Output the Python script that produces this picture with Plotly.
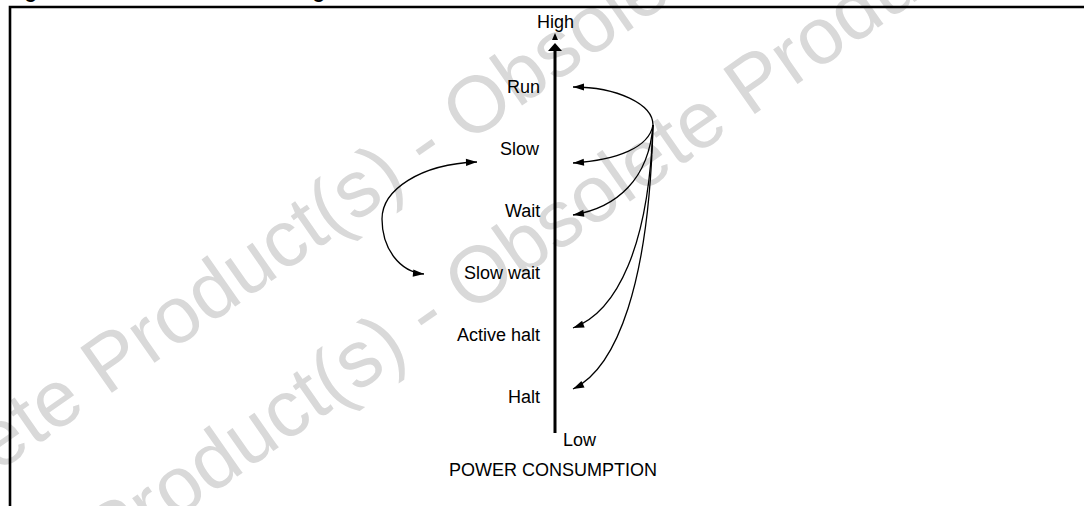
import math
import plotly.graph_objects as go

# ---------------- data ----------------
modes = ["Run", "Slow", "Wait", "Slow wait", "Active halt", "Halt"]
power_rank = [6, 5, 4, 3, 2, 1]          # relative power consumption (high -> low)
axis_ends = ["High", "Low"]
axis_title = "POWER CONSUMPTION"
wake_targets = ["Run", "Slow", "Wait", "Active halt", "Halt"]
slow_pair = ["Slow", "Slow wait"]
watermark = "Obsolete Product(s) - Obsolete Product(s)"
caption_parts = ["Figure 19.", "Power saving mode transitions"]

# ---------------- geometry / style ----------------
W, H = 1084, 506
FONT = "Liberation Sans, Arial, Helvetica, sans-serif"
RANK_Y0, RANK_STEP = 397, 62


def rank_y(r):
    return RANK_Y0 - (r - 1) * RANK_STEP


rank_of = dict(zip(modes, power_rank))
AXIS_X = 555
LABEL_X = 542
TIP_X = 573
SRC = (653, 125)
tip_offset = {"Run": 0, "Slow": 14, "Wait": 4, "Active halt": -7, "Halt": -8}


def bez(p0, c1, c2, p3):
    return "M {:.1f},{:.1f} C {:.1f},{:.1f} {:.1f},{:.1f} {:.1f},{:.1f}".format(*p0, *c1, *c2, *p3)


def head(tip, frm, L=11, hw=3.6):
    ux, uy = tip[0] - frm[0], tip[1] - frm[1]
    n = math.hypot(ux, uy)
    ux, uy = ux / n, uy / n
    bx, by = tip[0] - ux * L, tip[1] - uy * L
    px, py = -uy * hw, ux * hw
    return "M {:.1f},{:.1f} L {:.1f},{:.1f} L {:.1f},{:.1f} Z".format(
        tip[0], tip[1], bx + px, by + py, bx - px, by - py)


shapes = []
line_style = dict(color="black", width=1.3)
# frame
shapes.append(dict(type="rect", xref="x", yref="y", x0=10, y0=7, x1=W + 20, y1=H + 20,
                   line=dict(color="black", width=2.6), layer="above"))
# power axis
shapes.append(dict(type="line", xref="x", yref="y", x0=AXIS_X, x1=AXIS_X, y0=433, y1=50,
                   line=dict(color="black", width=3), layer="above"))
shapes.append(dict(type="path", xref="x", yref="y", path=head((AXIS_X, 43), (AXIS_X, 60), L=8, hw=7),
                   fillcolor="black", line=dict(width=0), layer="above"))
shapes.append(dict(type="path", xref="x", yref="y", path=head((AXIS_X, 33), (AXIS_X, 60), L=7, hw=3),
                   fillcolor="black", line=dict(width=0), layer="above"))

# transitions on the right
for name in wake_targets:
    ty = rank_y(rank_of[name]) + tip_offset[name]
    T = (TIP_X, ty)
    d = ty - SRC[1]
    dx = SRC[0] - TIP_X
    if d < 0:
        C1 = (SRC[0], SRC[1] + 0.55 * d)
        C2 = (TIP_X + 0.55 * dx, ty)
    else:
        C1 = (SRC[0] - 0.05 * dx, SRC[1] + 0.6 * d)
        C2 = (TIP_X + 0.55 * dx, ty - 0.08 * d)
    shapes.append(dict(type="path", xref="x", yref="y", path=bez(SRC, C1, C2, T),
                       line=line_style, layer="above"))
    shapes.append(dict(type="path", xref="x", yref="y", path=head(T, C2),
                       fillcolor="black", line=dict(width=0), layer="above"))

# Slow <-> Slow wait on the left
T1 = (477, rank_y(rank_of[slow_pair[0]]) + 13)
T2 = (424, rank_y(rank_of[slow_pair[1]]) + 1)
mid = (T1[1] + T2[1]) / 2 + 1
LX = 382
a1 = (T1[0] - 57, T1[1] + 2)
b2 = (LX + 18, T2[1] - 2)
arc = bez(T1, a1, (LX, T1[1] + 28), (LX, mid)) + " C {:.1f},{:.1f} {:.1f},{:.1f} {:.1f},{:.1f}".format(
    LX, mid + 30, *b2, *T2)
shapes.append(dict(type="path", xref="x", yref="y", path=arc, line=line_style, layer="above"))
shapes.append(dict(type="path", xref="x", yref="y", path=head(T1, a1),
                   fillcolor="black", line=dict(width=0), layer="above"))
shapes.append(dict(type="path", xref="x", yref="y", path=head(T2, b2),
                   fillcolor="black", line=dict(width=0), layer="above"))

# ---------------- annotations ----------------
ann = []
tf = dict(family=FONT, size=18, color="black")
for name, r in zip(modes, power_rank):
    ann.append(dict(x=LABEL_X, y=rank_y(r), text=name, xanchor="right", yanchor="middle",
                    showarrow=False, font=tf))
ann.append(dict(x=AXIS_X, y=22, text=axis_ends[0], xanchor="center", yanchor="middle",
                showarrow=False, font=tf))
ann.append(dict(x=561, y=440, text=axis_ends[1], xanchor="left", yanchor="middle",
                showarrow=False, font=tf))
ann.append(dict(x=553, y=470, text=axis_title, xanchor="center", yanchor="middle",
                showarrow=False, font=tf))
# caption of the figure: only its lowest part is inside the picture, as in the reference
cf = dict(family=FONT, size=20, color="black")
ann.append(dict(x=5, y=4.5, text="<b>" + caption_parts[0] + "</b>", xanchor="left", yanchor="bottom",
                showarrow=False, font=cf))
ann.append(dict(x=194, y=4.5, text="<b>" + caption_parts[1] + "</b>", xanchor="left", yanchor="bottom",
                showarrow=False, font=cf))
for a in ann:
    a["xref"] = "x"
    a["yref"] = "y"

# ---------------- figure ----------------
wm_centers_x = [422, 424]
wm_centers_y = [142, 312]
fig = go.Figure()
fig.add_trace(go.Bar(
    x=wm_centers_x, y=[2, 2], base=[c - 1 for c in wm_centers_y], width=[1, 1],
    text=[watermark, watermark], textposition="inside", insidetextanchor="middle",
    textangle=-35, constraintext="none", cliponaxis=False,
    textfont=dict(family=FONT, size=80, color="#d9d9d9"),
    marker=dict(color="rgba(0,0,0,0)", line=dict(width=0)),
    hoverinfo="skip", showlegend=False))

fig.update_layout(
    width=W, height=H, margin=dict(l=0, r=0, t=0, b=0),
    paper_bgcolor="white", plot_bgcolor="white", showlegend=False,
    xaxis=dict(range=[0, W], visible=False, fixedrange=True),
    yaxis=dict(range=[H, 0], visible=False, fixedrange=True),
    shapes=shapes, annotations=ann,
)

fig.write_html("out.html", config={"displayModeBar": False},
               post_script="document.body.style.margin='0px';document.body.style.overflow='hidden';")
